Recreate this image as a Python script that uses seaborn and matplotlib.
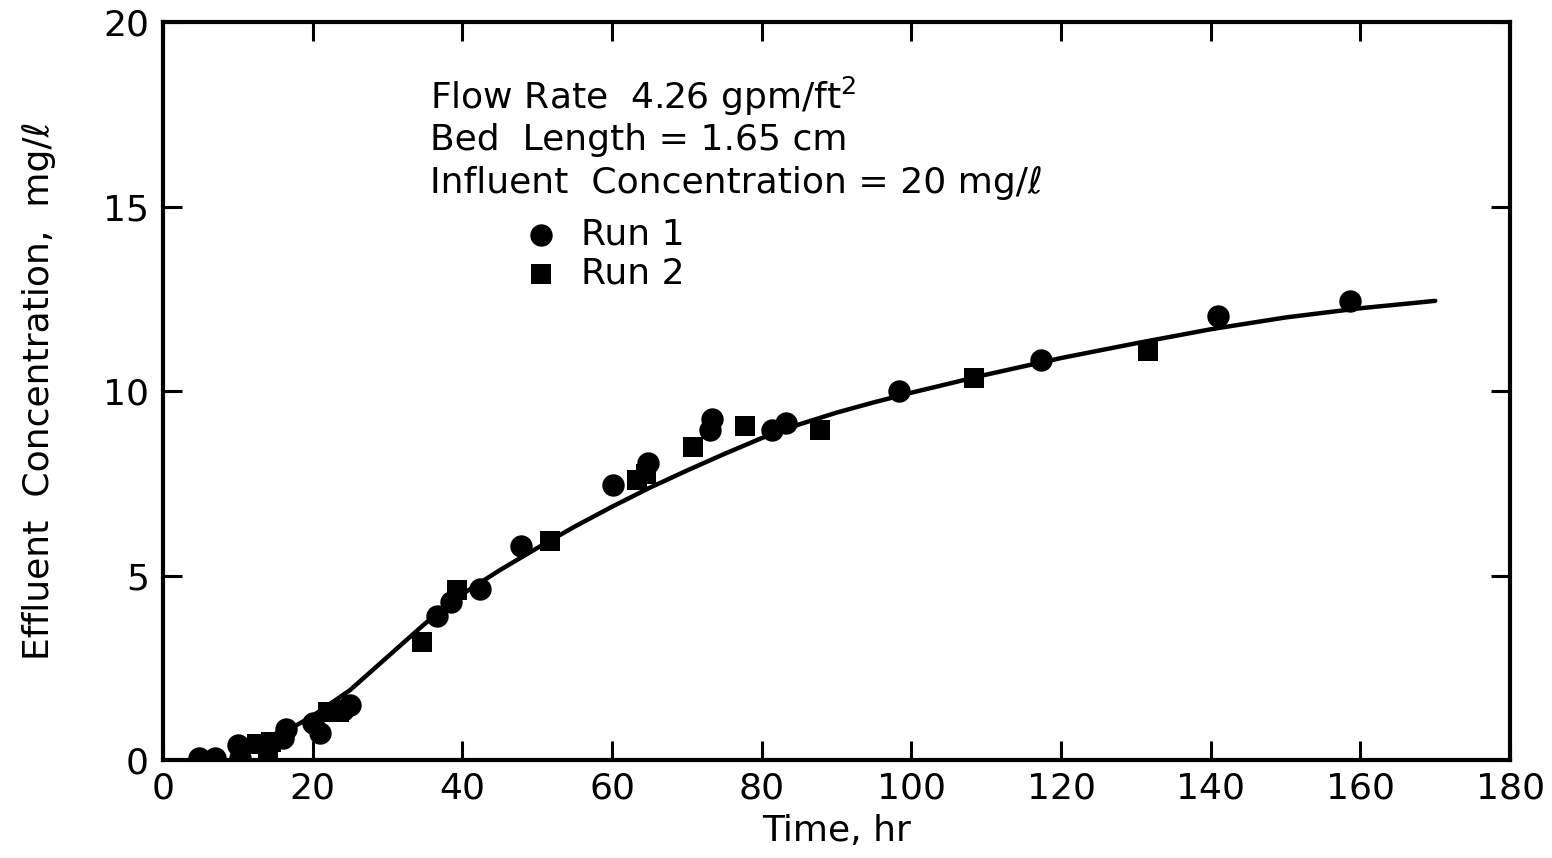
import matplotlib
matplotlib.use("Agg")
import matplotlib.pyplot as plt
import seaborn as sns
import pandas as pd

# ---- data ----
run1_time = [4.8, 7.0, 10.0, 10.3, 16.0, 16.5, 20.0, 21.0, 24.0, 25.0,
             36.6, 38.5, 42.4, 47.8, 60.1, 64.8, 73.1, 73.3, 81.4, 83.3,
             98.4, 117.3, 141.0, 158.6]
run1_conc = [0.05, 0.05, 0.4, 0.05, 0.6, 0.85, 1.0, 0.75, 1.35, 1.5,
             3.9, 4.3, 4.65, 5.8, 7.45, 8.05, 8.95, 9.25, 8.95, 9.15,
             10.0, 10.85, 12.05, 12.45]

run2_time = [12.5, 14.0, 14.5, 22.0, 23.5, 34.6, 39.3, 51.7, 63.3, 64.5,
             70.8, 77.8, 87.8, 108.4, 131.6]
run2_conc = [0.45, 0.25, 0.5, 1.3, 1.3, 3.2, 4.6, 5.95, 7.6, 7.75,
             8.5, 9.05, 8.95, 10.35, 11.1]

curve_time = [17, 20, 25, 30, 35, 40, 45, 50, 55, 60, 65, 70, 75, 80, 85,
              90, 95, 100, 110, 120, 130, 140, 150, 160, 170]
curve_conc = [0.85, 1.2, 1.9, 2.8, 3.7, 4.5, 5.15, 5.75, 6.33, 6.87, 7.38,
              7.85, 8.3, 8.73, 9.1, 9.42, 9.7, 9.96, 10.45, 10.9, 11.3,
              11.68, 12.0, 12.25, 12.45]

x_ticks = [0, 20, 40, 60, 80, 100, 120, 140, 160, 180]
y_ticks = [0, 5, 10, 15, 20]

annotation_lines = ["Flow Rate  4.26 gpm/ft$^{2}$",
                    "Bed  Length = 1.65 cm",
                    "Influent  Concentration = 20 mg/\u2113"]

sns.set_theme(style="white")
plt.rcParams['font.family'] = ['DejaVu Sans']
plt.rcParams['mathtext.fontset'] = 'dejavusans'
plt.rcParams['text.color'] = 'black'
plt.rcParams['axes.labelcolor'] = 'black'
plt.rcParams['xtick.color'] = 'black'
plt.rcParams['ytick.color'] = 'black'

fig = plt.figure(figsize=(15.52, 8.58), dpi=100)
ax = fig.add_axes([0.105, 0.114, 0.868, 0.860])

df1 = pd.DataFrame({"t": run1_time, "c": run1_conc})
df2 = pd.DataFrame({"t": run2_time, "c": run2_conc})
dfc = pd.DataFrame({"t": curve_time, "c": curve_conc})

sns.lineplot(data=dfc, x="t", y="c", ax=ax, color="black", linewidth=3.2,
             solid_capstyle="round", solid_joinstyle="round")
sns.scatterplot(data=df1, x="t", y="c", ax=ax, marker="o", s=260,
                color="black", edgecolor="black", linewidth=0, label="Run 1",
                zorder=3)
sns.scatterplot(data=df2, x="t", y="c", ax=ax, marker="s", s=210,
                color="black", edgecolor="black", linewidth=0, label="Run 2",
                zorder=3)

ax.set_xlim(0, 180)
ax.set_ylim(0, 20)
ax.set_xticks(x_ticks)
ax.set_yticks(y_ticks)
ax.set_xticklabels([str(v) for v in x_ticks], fontsize=26)
ax.set_yticklabels([str(v) for v in y_ticks], fontsize=26)
ax.tick_params(axis="both", direction="in", length=14, width=2.2,
               bottom=True, left=True, top=True, right=True,
               colors="black", pad=8)
ax.tick_params(axis="y", pad=10)
for sp in ax.spines.values():
    sp.set_linewidth(3)
    sp.set_color("black")
    sp.set_visible(True)

ax.set_xlabel("Time, hr", fontsize=26, labelpad=6)
ax.set_ylabel("Effluent  Concentration,  mg/\u2113", fontsize=26, labelpad=34)

y0 = 0.9
for i, line in enumerate(annotation_lines):
    ax.text(0.198, y0 - i * 0.059, line, transform=ax.transAxes,
            fontsize=26, va="center", ha="left", color="black")

leg = ax.legend(loc="upper left", bbox_to_anchor=(0.243, 0.755), frameon=False,
                fontsize=26, handletextpad=0.1, labelspacing=0.15,
                markerscale=1.0, borderaxespad=0, labelcolor="black")

fig.savefig("out.png", dpi=100, facecolor="white")
